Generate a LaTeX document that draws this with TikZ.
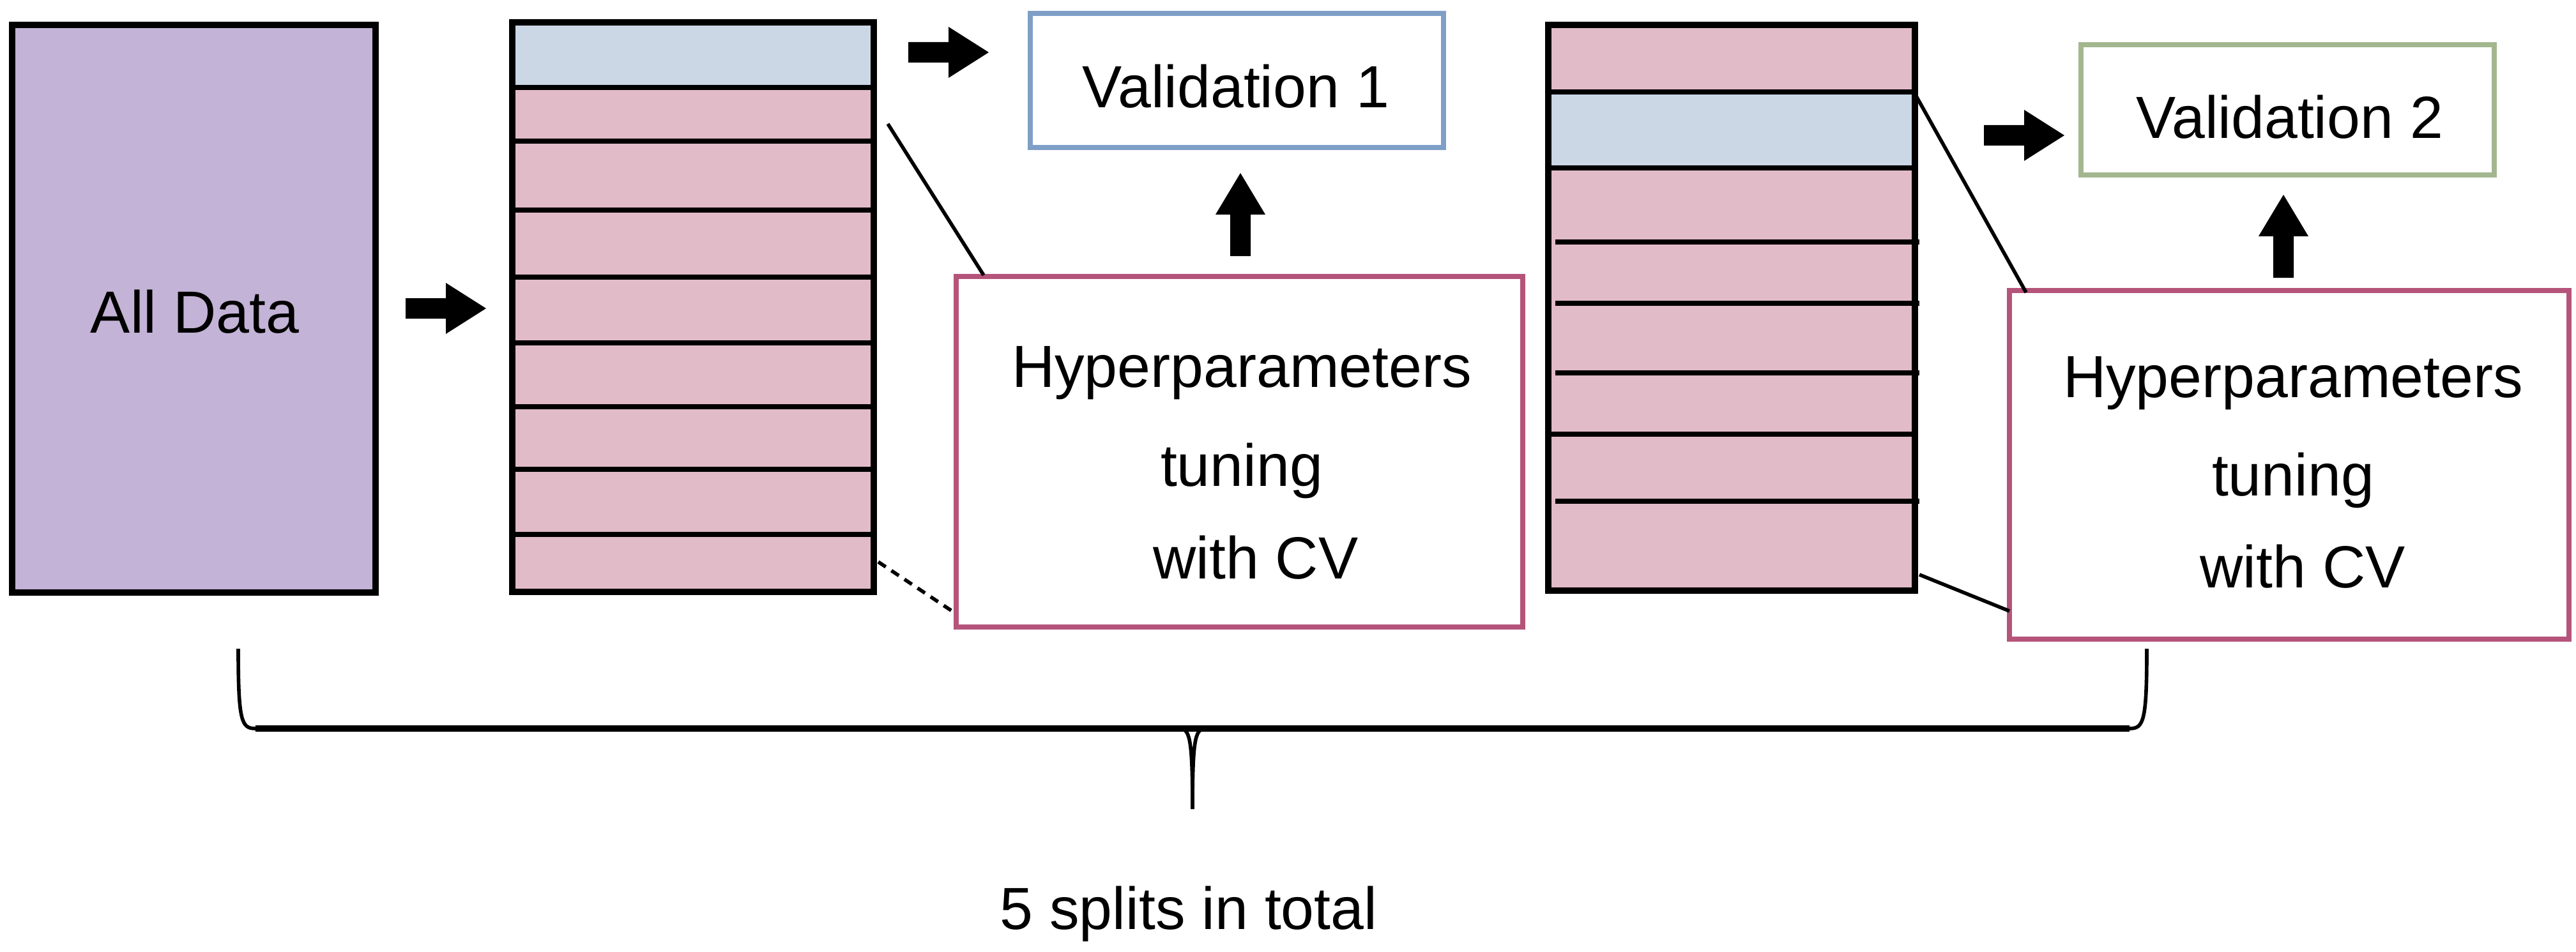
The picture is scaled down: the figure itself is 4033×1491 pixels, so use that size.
\documentclass[tikz,border=0pt]{standalone}
\usepackage{fontspec}
\setmainfont{Liberation Sans}
\begin{document}
\definecolor{cpurple}{HTML}{C3B3D6}
\definecolor{cblue}{HTML}{CBD7E5}
\definecolor{cpink}{HTML}{E2BBC8}
\definecolor{bpink}{HTML}{B5547A}
\definecolor{bblue}{HTML}{7F9FC7}
\definecolor{bgreen}{HTML}{A3B78F}
\begin{tikzpicture}[x=0.01cm,y=-0.01cm,
  txt/.style={anchor=base,inner sep=0,font=\fontsize{26.5}{30}\selectfont},
  blk/.style={draw=black,line width=2.6pt},
  cbox/.style={line width=2.2pt,fill=white},
  sep/.style={line width=2.4pt},
  rarrow/.pic={\fill[black] (-63,-16)--(0,-16)--(0,-40)--(63,0)--(0,40)--(0,16)--(-63,16)--cycle;},
  uarrow/.pic={\fill[black] (-16,65)--(-16,0)--(-39,0)--(0,-65)--(39,0)--(16,0)--(16,65)--cycle;}]
\useasboundingbox (0,0) rectangle (4033,1491);
% All data
\draw[blk,fill=cpurple] (19,39) rectangle (588,928);
\node[txt] (all) at (305,521) {All Data};
\pic at (698,483) {rarrow};
% stack 1
\fill[cblue] (802,35) rectangle (1368,137);
\fill[cpink] (802,137) rectangle (1368,927);
\foreach \y in {137,221,329,434,537,637,735,837} \draw[sep] (802,\y)--(1368,\y);
\draw[blk] (802,35) rectangle (1368,927);
\coordinate (s1a) at (1390,194);
\coordinate (s1b) at (1375,880);
% validation 1
\draw[cbox,draw=bblue] (1613,21) rectangle (1613+647,231);
\node[txt] (v1) at (1935,169) {Validation 1};
\pic at (1485,82) {rarrow};
\pic at (1942,336) {uarrow};
% hyper 1
\draw[cbox,draw=bpink] (1497,433) rectangle (2384,982);
\coordinate (h1a) at (1540,431);
\coordinate (h1b) at (1492,958);
\node[txt] (h1l1) at (1944,606) {Hyperparameters};
\node[txt] (h1l2) at (1944,761) {tuning};
\node[txt] (h1l3) at (1966,906) {with CV};
\draw[line width=1.6pt] (s1a)--(h1a);
\draw[line width=1.6pt,dash pattern=on 4pt off 3pt] (s1b)--(h1b);
% stack 2
\fill[cpink] (2424,39) rectangle (2998,925);
\fill[cblue] (2424,144) rectangle (2998,263);
\foreach \y in {144,263,680} \draw[sep] (2424,\y)--(2998,\y);
\foreach \y in {379,475,584,785} \draw[sep] (2435,\y)--(3005,\y);
\draw[blk] (2424,39) rectangle (2998,925);
\coordinate (s2a) at (2998,147);
\coordinate (s2b) at (3005,900);
% validation 2
\draw[cbox,draw=bgreen] (3258,70) rectangle (3905,274);
\node[txt] (v2) at (3585,217) {Validation 2};
\pic at (3169,212) {rarrow};
\pic at (3575,370) {uarrow};
% hyper 2
\draw[cbox,draw=bpink] (3146,455) rectangle (4022,1001);
\coordinate (h2a) at (3172,458);
\coordinate (h2b) at (3146,957);
\node[txt] (h2l1) at (3590,622) {Hyperparameters};
\node[txt] (h2l2) at (3590,776) {tuning};
\node[txt] (h2l3) at (3605,920) {with CV};
\draw[line width=1.6pt] (s2a)--(h2a);
\draw[line width=1.6pt] (s2b)--(h2b);
% brace
\draw[line width=1.6pt] (373,1016) .. controls (373,1130) and (378,1141) .. (400,1141)
  -- (1845,1141) .. controls (1862,1141) and (1867,1150) .. (1867,1267);
\draw[line width=1.6pt] (3361,1016) .. controls (3361,1130) and (3356,1141) .. (3334,1141)
  -- (1889,1141) .. controls (1872,1141) and (1867,1150) .. (1867,1267);
\draw[line width=2.6pt] (400,1141) -- (3334,1141);
\node[txt] (tot) at (1861,1455) {5 splits in total};
\end{tikzpicture}
\end{document}
